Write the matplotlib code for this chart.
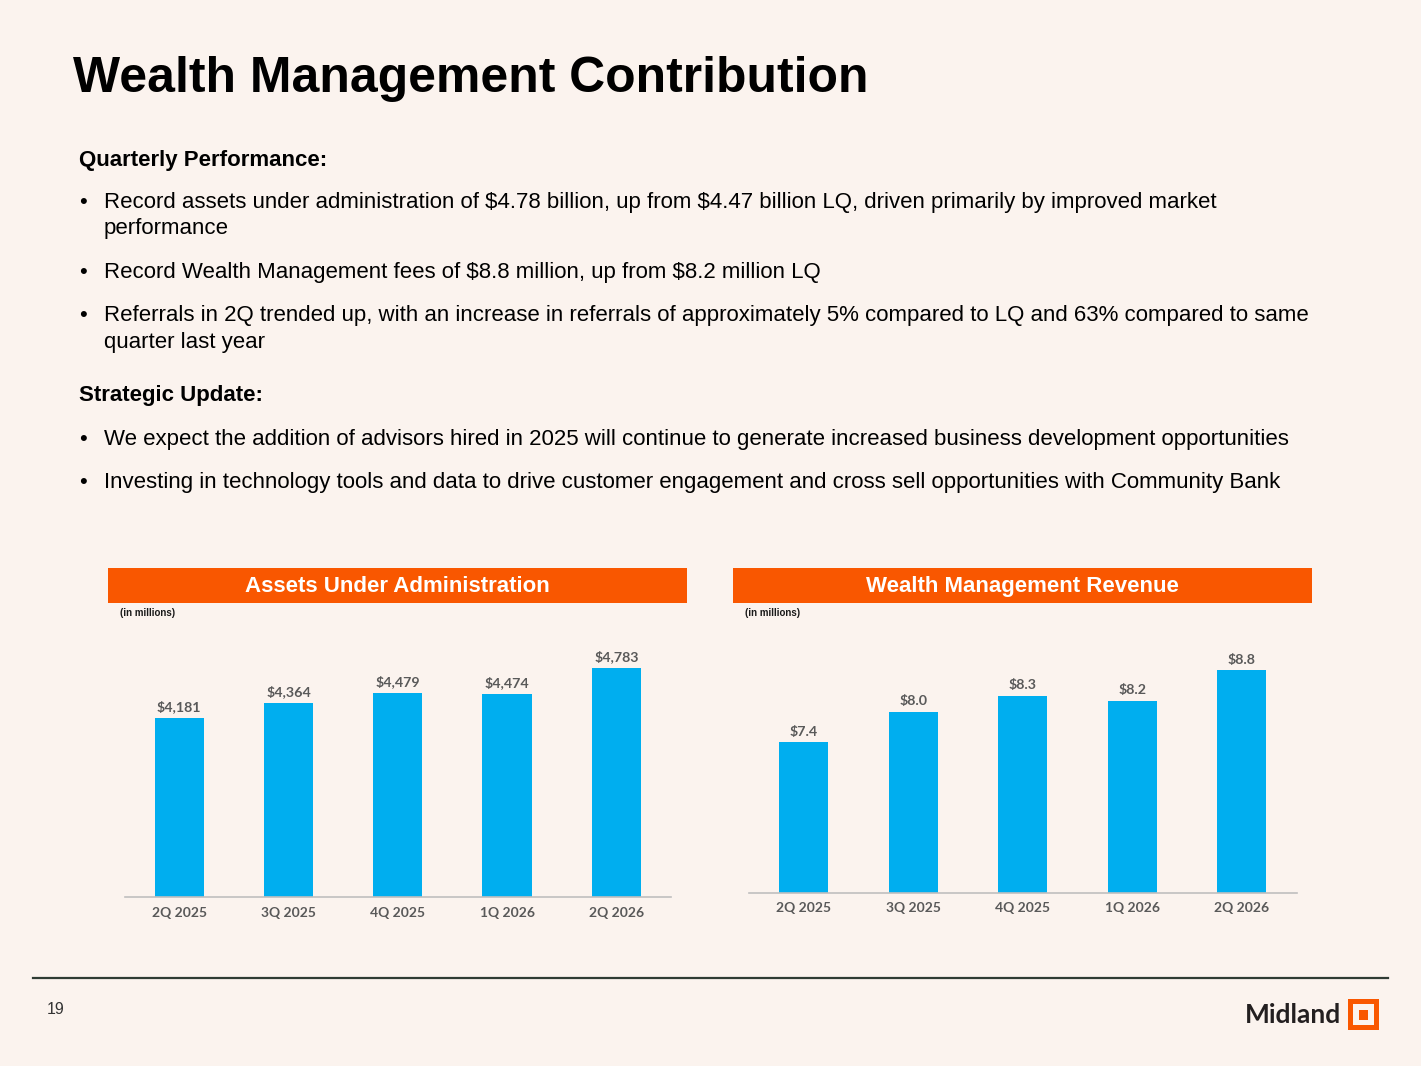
import matplotlib
matplotlib.use("Agg")
import matplotlib.pyplot as plt
from matplotlib.patches import Rectangle

plt.rcParams["text.parse_math"] = False

# ---- data ----
quarters = ["2Q 2025", "3Q 2025", "4Q 2025", "1Q 2026", "2Q 2026"]
aua_values = [4181, 4364, 4479, 4474, 4783]
aua_labels = ["$4,181", "$4,364", "$4,479", "$4,474", "$4,783"]
rev_values = [7.4, 8.0, 8.3, 8.2, 8.8]
rev_labels = ["$7.4", "$8.0", "$8.3", "$8.2", "$8.8"]

title = "Wealth Management Contribution"
heading1 = "Quarterly Performance:"
heading2 = "Strategic Update:"
bullets1 = [
    ["Record assets under administration of $4.78 billion, up from $4.47 billion LQ, driven primarily by improved market",
     "performance"],
    ["Record Wealth Management fees of $8.8 million, up from $8.2 million LQ"],
    ["Referrals in 2Q trended up, with an increase in referrals of approximately 5% compared to LQ and 63% compared to same",
     "quarter last year"],
]
bullets2 = [
    ["We expect the addition of advisors hired in 2025 will continue to generate increased business development opportunities"],
    ["Investing in technology tools and data to drive customer engagement and cross sell opportunities with Community Bank"],
]

BG = "#FBF3EE"
ORANGE = "#F95700"
BLUE = "#00AEEF"
GREY = "#595959"

W, H = 1421, 1066
fig = plt.figure(figsize=(W / 100, H / 100), dpi=100, facecolor=BG)


def fx(x):
    return x / W


def fy(y):
    return 1 - y / H


ARIAL = "Liberation Sans"

# title
fig.text(fx(73), fy(92), title, fontsize=35.9, fontweight="bold", family=ARIAL,
         color="black", va="baseline", ha="left")

# body text
body_fs = 16
fig.text(fx(79), fy(166), heading1, fontsize=body_fs, fontweight="bold", family=ARIAL, va="baseline")
line_y = [[208, 234], [278], [321, 348]]
for lines, ys in zip(bullets1, line_y):
    fig.text(fx(79), fy(ys[0]), "\u2022", fontsize=body_fs, family=ARIAL, va="baseline")
    for ln, y in zip(lines, ys):
        fig.text(fx(104), fy(y), ln, fontsize=body_fs, family=ARIAL, va="baseline")
fig.text(fx(79), fy(401), heading2, fontsize=body_fs, fontweight="bold", family=ARIAL, va="baseline")
for lines, y in zip(bullets2, [445, 488]):
    fig.text(fx(79), fy(y), "\u2022", fontsize=body_fs, family=ARIAL, va="baseline")
    fig.text(fx(104), fy(y), lines[0], fontsize=body_fs, family=ARIAL, va="baseline")


def header(x0, x1, y0, y1, text):
    fig.patches.append(Rectangle((fx(x0), fy(y1)), fx(x1 - x0), (y1 - y0) / H,
                                 transform=fig.transFigure, facecolor=ORANGE,
                                 edgecolor="none", zorder=1))
    fig.text(fx((x0 + x1) / 2), fy(592), text, fontsize=16,
             fontweight="bold", family=ARIAL, color="white",
             ha="center", va="baseline", zorder=2)


def bar_chart(left, right, bottom, top, values, labels, ylim, note_x):
    ax = fig.add_axes([fx(left), fy(bottom), fx(right - left), (bottom - top) / H])
    ax.set_facecolor("none")
    xs = range(len(values))
    bars = ax.bar(xs, values, width=0.45, color=BLUE, zorder=2)
    for b, lab in zip(bars, labels):
        ax.annotate(lab, (b.get_x() + b.get_width() / 2, b.get_height()),
                    xytext=(0, 3.5), textcoords="offset points", ha="center",
                    va="bottom", fontsize=10.3, fontweight="bold", family="Lato",
                    color=GREY)
    ax.set_xlim(-0.5, len(values) - 0.5)
    ax.set_ylim(*ylim)
    ax.set_xticks(list(xs))
    ax.set_xticklabels(quarters, fontsize=10, fontweight="bold", family="Lato", color=GREY)
    ax.tick_params(axis="x", length=0, pad=7)
    ax.set_yticks([])
    for s in ["top", "left", "right"]:
        ax.spines[s].set_visible(False)
    ax.spines["bottom"].set_color("#BFBFBF")
    ax.spines["bottom"].set_linewidth(1.2)
    fig.text(fx(note_x), fy(613), "(in millions)", fontsize=7, fontweight="bold",
             family=ARIAL, color="#1a1a1a", va="center", ha="left")
    return ax


header(108, 687, 568, 603, "Assets Under Administration")
header(733, 1312, 568, 603, "Wealth Management Revenue")

bar_chart(124.5, 671, 897.3, 640, aua_values, aua_labels, (2026, 5122), 120)
bar_chart(749, 1296.5, 892.7, 640, rev_values, rev_labels, (4.48, 9.39), 745)

# footer line
fig.add_artist(plt.Line2D([fx(33), fx(1388)], [fy(978), fy(978)],
                          transform=fig.transFigure, color="#2F3B33", lw=1.6))
fig.text(fx(47), fy(1010), "19", fontsize=11.5, family=ARIAL, color="#333333",
         va="center", ha="left")

# logo
fig.text(fx(1341), fy(1023), "Midland", fontsize=19, fontweight="bold",
         family="Lato", color="#231F20", ha="right", va="baseline")
for (x0, y0, x1, y1, c) in [(1347.5, 999.3, 1378.5, 1030, ORANGE),
                            (1352.5, 1004.3, 1373.5, 1025, BG),
                            (1358.5, 1010, 1367.5, 1019.5, ORANGE)]:
    fig.patches.append(Rectangle((fx(x0), fy(y1)), fx(x1 - x0), (y1 - y0) / H,
                                 transform=fig.transFigure, facecolor=c,
                                 edgecolor="none"))

fig.savefig("out.png", dpi=100, facecolor=BG)
